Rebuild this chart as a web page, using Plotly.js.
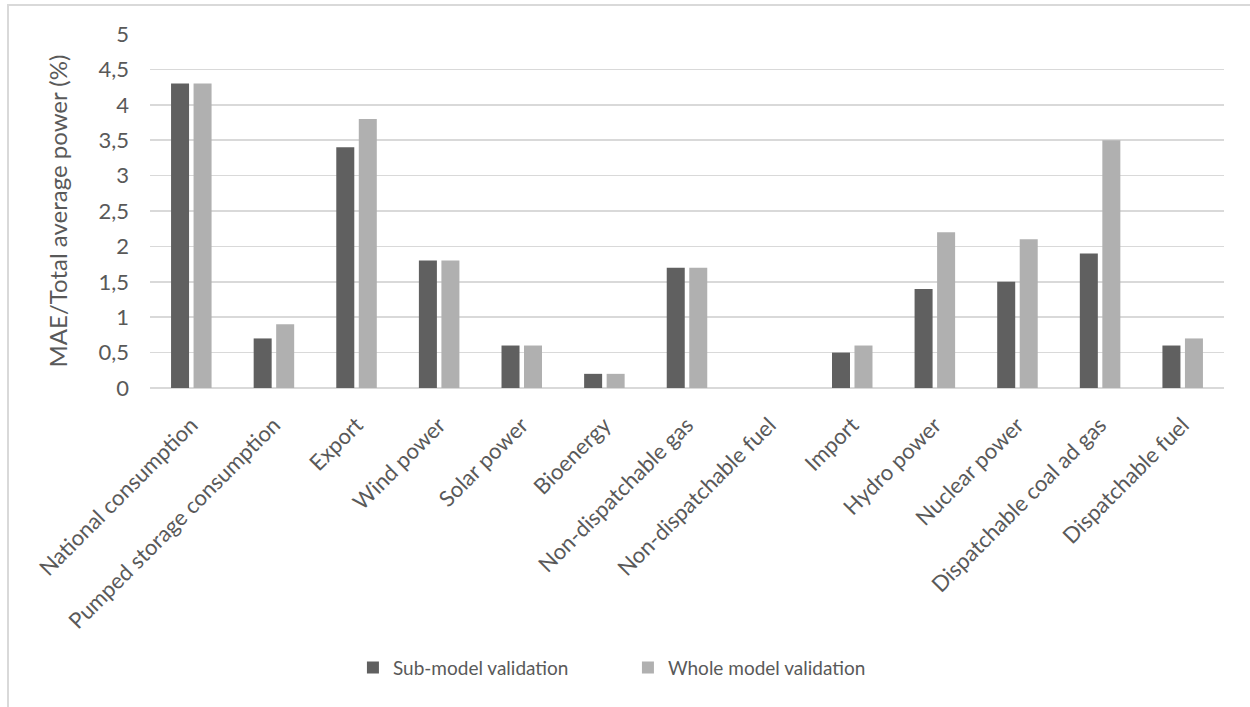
<!DOCTYPE html>
<html><head><meta charset="utf-8">
<script src="https://cdn.plot.ly/plotly-3.0.1.min.js"></script>
<style>body{margin:0;overflow:hidden;background:#fff}#frame{position:absolute;left:7px;top:4px;width:1300px;height:800px;border:2px solid #d9d9d9;pointer-events:none}</style>
</head><body><div id="chart" style="width:1250px;height:707px"></div><div id="frame"></div>
<script>
const categories = ["National consumption","Pumped storage consumption","Export","Wind power","Solar power","Bioenergy","Non-dispatchable gas","Non-dispatchable fuel","Import","Hydro power","Nuclear power","Dispatchable coal ad gas","Dispatchable fuel"];
const subModel = [4.3,0.7,3.4,1.8,0.6,0.2,1.7,0,0.5,1.4,1.5,1.9,0.6];
const wholeModel = [4.3,0.9,3.8,1.8,0.6,0.2,1.7,0,0.6,2.2,2.1,3.5,0.7];
const yTicks = [0,0.5,1,1.5,2,2.5,3,3.5,4,4.5,5];
const font = "Lato, 'Noto Sans', sans-serif";
Plotly.newPlot('chart', [
 {type:'bar', name:'Sub-model validation', x:categories, y:subModel, marker:{color:'#606060'}, hoverinfo:'none'},
 {type:'bar', name:'Whole model validation', x:categories, y:wholeModel, marker:{color:'#b0b0b0'}, hoverinfo:'none'}
], {
 width:1250, height:707, separators:', ',
 margin:{l:150,r:26,t:34,b:319},
 font:{family:font, color:'#595959', size:21},
 barmode:'group', bargap:0.455, bargroupgap:0.2,
 plot_bgcolor:'#fff', paper_bgcolor:'#fff',
 xaxis:{tickangle:-45, showgrid:false, showline:false, ticks:'', tickfont:{size:22}, ticklabelstandoff:19},
 yaxis:{range:[0,5], tickvals:yTicks, gridcolor:'#d9d9d9', gridwidth:1.5, zeroline:true, zerolinecolor:'#d9d9d9', zerolinewidth:1.5, ticklabelstandoff:20, tickfont:{size:22},
   title:{text:'MAE/Total average power (%)', font:{size:24}, standoff:24}},
 showlegend:true,
 legend:{orientation:'h', x:0.445, xanchor:'center', y:-0.79, yanchor:'middle', font:{size:19}, traceorder:'normal', itemwidth:30, entrywidth:230}
}, {staticPlot:true});
</script></body></html>
